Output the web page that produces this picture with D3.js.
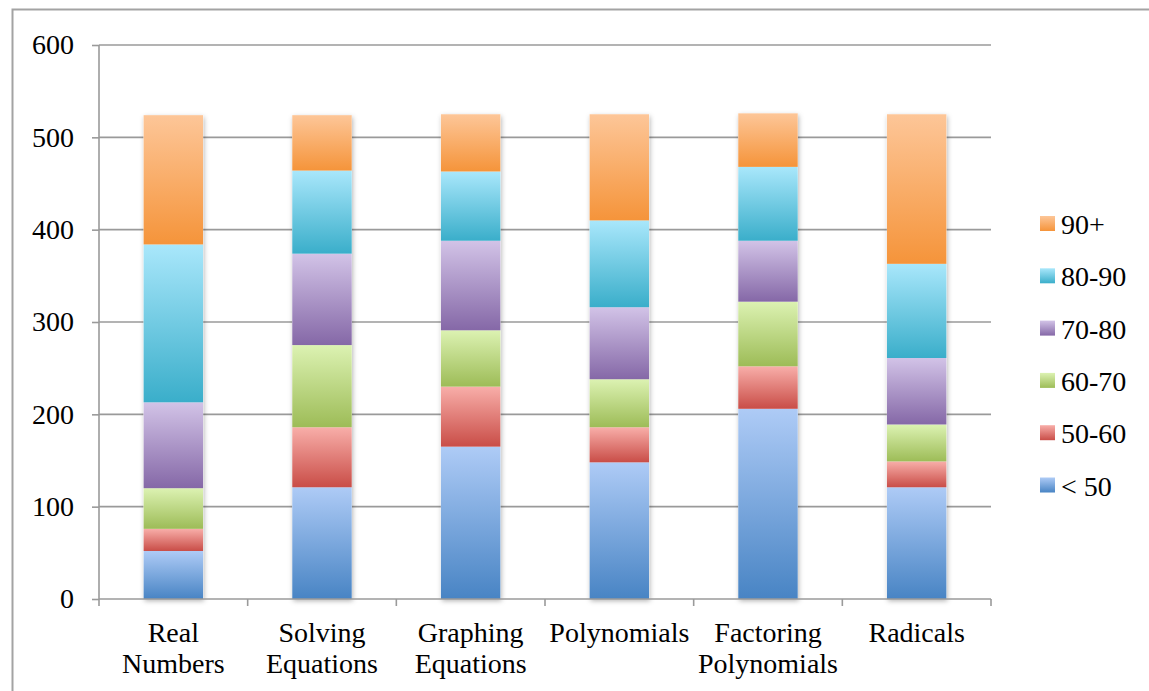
<!DOCTYPE html>
<html>
<head>
<meta charset="utf-8">
<script src="https://cdn.jsdelivr.net/npm/d3@7"></script>
<style>
  html, body { margin: 0; padding: 0; background: #fff; }
  svg { display: block; }
  text { font-family: "Liberation Serif", "DejaVu Serif", serif !important; fill: #000; }
</style>
</head>
<body>
<svg id="chart" width="1149" height="691"></svg>
<script>
// ---- Data ----
const categories = ["Real Numbers", "Solving Equations", "Graphing Equations", "Polynomials", "Factoring Polynomials", "Radicals"];
const categoryLines = [["Real", "Numbers"], ["Solving", "Equations"], ["Graphing", "Equations"], ["Polynomials"], ["Factoring", "Polynomials"], ["Radicals"]];
const seriesNames = ["< 50", "50-60", "60-70", "70-80", "80-90", "90+"];
const below50 = [52, 121, 165, 148, 206, 121];
const from50to60 = [24, 65, 65, 38, 46, 28];
const from60to70 = [44, 89, 61, 52, 70, 40];
const from70to80 = [93, 99, 97, 78, 66, 72];
const from80to90 = [171, 90, 75, 94, 80, 102];
const above90 = [140, 60, 62, 115, 58, 162];
const yTicks = [0, 100, 200, 300, 400, 500, 600];

const seriesValues = [below50, from50to60, from60to70, from70to80, from80to90, above90];
const gradTop = ["#aecbf6", "#f8aea9", "#dcf2b2", "#d2c3e7", "#a9e7fb", "#fdc698"];
const gradBot = ["#4884c4", "#c94d47", "#9dbc57", "#8568a7", "#3aaeca", "#f5943a"];

const table = categories.map((c, i) => {
  const row = { category: c };
  seriesNames.forEach((s, j) => row[s] = seriesValues[j][i]);
  return row;
});

const FONT = "'Liberation Serif', 'DejaVu Serif', serif";
const FS = 28;

const svg = d3.select("#chart");
const defs = svg.append("defs");

seriesNames.forEach((s, j) => {
  const g = defs.append("linearGradient").attr("id", "grad" + j)
    .attr("x1", 0).attr("y1", 0).attr("x2", 0).attr("y2", 1);
  g.append("stop").attr("offset", "0%").attr("stop-color", gradTop[j]);
  g.append("stop").attr("offset", "100%").attr("stop-color", gradBot[j]);
});

const shadow = defs.append("filter").attr("id", "shadow")
  .attr("x", "-30%").attr("y", "-10%").attr("width", "160%").attr("height", "120%");
shadow.append("feDropShadow").attr("dx", 1).attr("dy", 2)
  .attr("stdDeviation", 2.5).attr("flood-color", "#000").attr("flood-opacity", 0.3);

const plotLeft = 99, plotRight = 991, plotTop = 45, plotBottom = 599;

const x = d3.scaleBand().domain(categories).range([plotLeft, plotRight]).paddingInner(0.6).paddingOuter(0.3);
const y = d3.scaleLinear().domain([0, 600]).range([plotBottom, plotTop]);

// outer frame
svg.append("path")
  .attr("d", `M12.5,691 L12.5,9.5 L1149,9.5`)
  .attr("fill", "none").attr("stroke", "#a3a3a3").attr("stroke-width", 2);

// gridlines
svg.append("g").selectAll("line").data(yTicks.filter(d => d > 0)).join("line")
  .attr("x1", plotLeft).attr("x2", plotRight)
  .attr("y1", d => y(d)).attr("y2", d => y(d))
  .attr("stroke", "#9a9a9a").attr("stroke-width", 1.6);

// y axis
const yAxis = svg.append("g").attr("transform", `translate(${plotLeft},0)`)
  .call(d3.axisLeft(y).tickValues(yTicks).tickSize(7).tickPadding(18).tickFormat(d3.format("d")));
yAxis.attr("font-family", FONT).attr("font-size", FS);
yAxis.select(".domain").attr("stroke", "#9a9a9a").attr("stroke-width", 1.6).attr("d", `M0,${plotBottom}V${plotTop}`);
yAxis.selectAll(".tick line").attr("stroke", "#9a9a9a").attr("stroke-width", 1.6);
yAxis.selectAll(".tick text").style("font-family", FONT).style("font-size", FS + "px").attr("fill", "#000");

// stacked bars
const stack = d3.stack().keys(seriesNames)(table);
const barsG = svg.append("g");
const last = stack[stack.length - 1];
barsG.selectAll("rect.barShadow").data(last).join("rect")
  .attr("class", "barShadow")
  .attr("x", d => x(d.data.category)).attr("width", x.bandwidth())
  .attr("y", d => y(d[1]))
  .attr("height", d => y(0) - y(d[1]))
  .attr("fill", "#fff").attr("filter", "url(#shadow)");

barsG.selectAll("g.series").data(stack).join("g")
  .attr("class", "series")
  .attr("fill", (d, j) => `url(#grad${j})`)
  .selectAll("rect").data(d => d).join("rect")
  .attr("x", d => x(d.data.category))
  .attr("width", x.bandwidth())
  .attr("y", d => y(d[1]))
  .attr("height", d => y(d[0]) - y(d[1]));

// x axis line and ticks
const xAxisG = svg.append("g");
xAxisG.append("line").attr("x1", plotLeft).attr("x2", plotRight).attr("y1", plotBottom).attr("y2", plotBottom)
  .attr("stroke", "#9a9a9a").attr("stroke-width", 1.6);
const tickXs = categories.map((c, i) => plotLeft + i * x.step()).concat([plotRight]);
xAxisG.selectAll("line.tick").data(tickXs).join("line")
  .attr("class", "tick")
  .attr("x1", d => d).attr("x2", d => d).attr("y1", plotBottom).attr("y2", plotBottom + 7)
  .attr("stroke", "#9a9a9a").attr("stroke-width", 1.6);

// category labels
const labG = svg.append("g");
categories.forEach((c, i) => {
  const cx = x(c) + x.bandwidth() / 2;
  const t = labG.append("text")
    .attr("x", cx)
    .attr("y", 642)
    .attr("text-anchor", "middle")
    .style("font-family", FONT)
    .style("font-size", FS + "px");
  categoryLines[i].forEach((ln, k) => {
    t.append("tspan").attr("x", cx).attr("dy", k === 0 ? 0 : 31).text(ln);
  });
});

// legend
const legendOrder = seriesNames.map((s, j) => j).reverse();
const lg = svg.append("g");
legendOrder.forEach((j, k) => {
  const yy = 216 + k * 52.3;
  lg.append("rect").attr("x", 1040).attr("y", yy).attr("width", 15).attr("height", 15)
    .attr("fill", `url(#grad${j})`);
  lg.append("text").attr("x", 1061).attr("y", yy + 18)
    .style("font-family", FONT).style("font-size", FS + "px")
    .text(seriesNames[j]);
});
</script>
</body>
</html>
